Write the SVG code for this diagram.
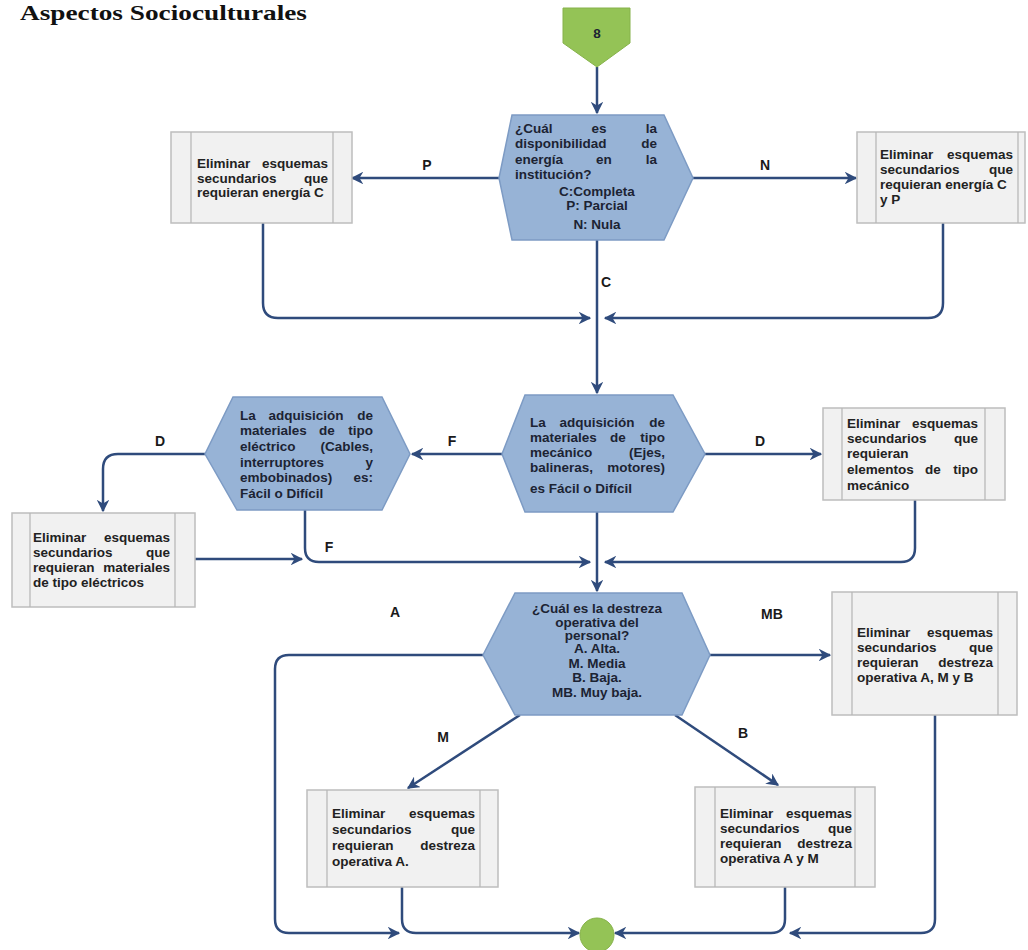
<svg xmlns="http://www.w3.org/2000/svg" width="1028" height="950" viewBox="0 0 1028 950">
<style>
.title{font-family:"Liberation Serif","Times New Roman",serif;font-weight:bold;font-size:21px;fill:#111}
.t{font-family:"Liberation Sans",Arial,sans-serif;font-weight:bold;font-size:13.5px;fill:#222}
.h{font-family:"Liberation Sans",Arial,sans-serif;font-weight:bold;font-size:13.5px;fill:#1c2333}
.lab{font-family:"Liberation Sans",Arial,sans-serif;font-weight:bold;font-size:14px;fill:#1a1a1a}
.e{text-anchor:end}
.m{text-anchor:middle}
.box{fill:#f1f1f1;stroke:#bdbdbd;stroke-width:1.5}
.bl{stroke:#b5b5b5;stroke-width:1.2}
.hex{fill:#97b3d6;stroke:#7d9bc4;stroke-width:1.5}
.green{fill:#94c356;stroke:#86b24a;stroke-width:1}
.c{fill:none;stroke:#2f4b7c;stroke-width:2.5}
</style>
<defs>
<marker id="ah" viewBox="0 0 10 10" refX="9" refY="5" markerWidth="5" markerHeight="5" orient="auto" markerUnits="strokeWidth">
<path d="M0,0 L10,5 L0,10 L3,5 Z" fill="#2f4b7c"/>
</marker>
</defs>
<text class="title" x="20" y="20" textLength="287" lengthAdjust="spacingAndGlyphs">Aspectos Socioculturales</text>

<g id="connectors">
<path class="c" d="M597,67 L597,113" marker-end="url(#ah)"/>
<path class="c" d="M500,178 L352,178" marker-end="url(#ah)"/>
<path class="c" d="M693,178 L856,178" marker-end="url(#ah)"/>
<path class="c" d="M597,240 L597,393" marker-end="url(#ah)"/>
<path class="c" d="M263,223 L263,303 Q263,318 278,318 L590,318" marker-end="url(#ah)"/>
<path class="c" d="M943,223 L943,303 Q943,318 928,318 L605,318" marker-end="url(#ah)"/>
<path class="c" d="M507,454 L412,454" marker-end="url(#ah)"/>
<path class="c" d="M705,454 L821,454" marker-end="url(#ah)"/>
<path class="c" d="M205,454 L118,454 Q103,454 103,469 L103,511" marker-end="url(#ah)"/>
<path class="c" d="M305,510 L305,548 Q305,562 319,562 L590,562" marker-end="url(#ah)"/>
<path class="c" d="M195,559 L302,559" marker-end="url(#ah)"/>
<path class="c" d="M915,500 L915,548 Q915,562 901,562 L605,562" marker-end="url(#ah)"/>
<path class="c" d="M597,512 L597,591" marker-end="url(#ah)"/>
<path class="c" d="M483,655 L289,655 Q275,655 275,669 L275,919 Q275,933 289,933 L399,933" marker-end="url(#ah)"/>
<path class="c" d="M402,887 L402,919 Q402,933 416,933 L579,933" marker-end="url(#ah)"/>
<path class="c" d="M710,655 L830,655" marker-end="url(#ah)"/>
<path class="c" d="M935,715 L935,919 Q935,933 921,933 L790,933" marker-end="url(#ah)"/>
<path class="c" d="M785,887 L785,919 Q785,933 771,933 L615,933" marker-end="url(#ah)"/>
<path class="c" d="M520,715 L408,788" marker-end="url(#ah)"/>
<path class="c" d="M675,715 L778,785" marker-end="url(#ah)"/>
</g>

<g id="labels">
<text class="lab m" x="427" y="170">P</text>
<text class="lab m" x="765" y="170">N</text>
<text class="lab m" x="606" y="287">C</text>
<text class="lab m" x="452" y="446">F</text>
<text class="lab m" x="760" y="446">D</text>
<text class="lab m" x="160" y="446">D</text>
<text class="lab m" x="329" y="552">F</text>
<text class="lab m" x="395" y="617">A</text>
<text class="lab m" x="772" y="619">MB</text>
<text class="lab m" x="443" y="742">M</text>
<text class="lab m" x="743" y="738">B</text>
</g>

<g id="start">
<polygon class="green" points="563,8 630,8 630,43 597,67 563,43"/>
<text class="h m" x="597" y="38">8</text>
</g>

<g id="q-energia">
<polygon class="hex" points="512,115 664,115 693,178 664,240 512,240 499,178"/>
<text class="h" x="515" y="133">¿Cuál</text><text class="h m" x="599" y="133">es</text><text class="h e" x="657" y="133">la</text>
<text class="h" x="515" y="148">disponibilidad</text><text class="h e" x="657" y="148">de</text>
<text class="h" x="515" y="164">energía</text><text class="h m" x="604" y="164">en</text><text class="h e" x="657" y="164">la</text>
<text class="h" x="515" y="179">institución?</text>
<text class="h m" x="597" y="196">C:Completa</text>
<text class="h m" x="597" y="210">P: Parcial</text>
<text class="h m" x="597" y="229">N: Nula</text>
</g>

<g id="box-energia-c">
<rect class="box" x="171" y="132" width="181" height="91"/>
<line class="bl" x1="191" y1="132" x2="191" y2="223"/><line class="bl" x1="333" y1="132" x2="333" y2="223"/>
<text class="t" x="197" y="168">Eliminar</text><text class="t e" x="328" y="168">esquemas</text>
<text class="t" x="197" y="183">secundarios</text><text class="t e" x="328" y="183">que</text>
<text class="t" x="197" y="197">requieran energía C</text>
</g>

<g id="box-energia-cp">
<rect class="box" x="857" y="132" width="168" height="91"/>
<line class="bl" x1="876" y1="132" x2="876" y2="223"/><line class="bl" x1="1018" y1="132" x2="1018" y2="223"/>
<text class="t" x="880" y="159">Eliminar</text><text class="t e" x="1013" y="159">esquemas</text>
<text class="t" x="880" y="174">secundarios</text><text class="t e" x="1013" y="174">que</text>
<text class="t" x="880" y="189">requieran energía C</text>
<text class="t" x="880" y="204">y P</text>
</g>

<g id="q-mecanico">
<polygon class="hex" points="525,395 673,395 705,454 673,512 525,512 502,454"/>
<text class="h" x="530" y="427">La</text><text class="h m" x="597" y="427">adquisición</text><text class="h e" x="665" y="427">de</text>
<text class="h" x="530" y="442">materiales</text><text class="h m" x="618" y="442">de</text><text class="h e" x="665" y="442">tipo</text>
<text class="h" x="530" y="457">mecánico</text><text class="h e" x="665" y="457">(Ejes,</text>
<text class="h" x="530" y="472">balineras,</text><text class="h e" x="665" y="472">motores)</text>
<text class="h" x="530" y="493">es Fácil  o Difícil</text>
</g>

<g id="q-electrico">
<polygon class="hex" points="233,397 382,397 410,454 382,510 237,510 205,454"/>
<text class="h" x="240" y="420">La</text><text class="h m" x="306" y="420">adquisición</text><text class="h e" x="373" y="420">de</text>
<text class="h" x="240" y="435">materiales</text><text class="h m" x="327" y="435">de</text><text class="h e" x="373" y="435">tipo</text>
<text class="h" x="240" y="451">eléctrico</text><text class="h e" x="373" y="451">(Cables,</text>
<text class="h" x="240" y="467">interruptores</text><text class="h e" x="373" y="467">y</text>
<text class="h" x="240" y="482">embobinados)</text><text class="h e" x="373" y="482">es:</text>
<text class="h" x="240" y="498">Fácil o Difícil</text>
</g>

<g id="box-mecanico">
<rect class="box" x="823" y="408" width="182" height="92"/>
<line class="bl" x1="842" y1="408" x2="842" y2="500"/><line class="bl" x1="985" y1="408" x2="985" y2="500"/>
<text class="t" x="847" y="428">Eliminar</text><text class="t e" x="978" y="428">esquemas</text>
<text class="t" x="847" y="443">secundarios</text><text class="t e" x="978" y="443">que</text>
<text class="t" x="847" y="458">requieran</text>
<text class="t" x="847" y="474">elementos</text><text class="t m" x="933" y="474">de</text><text class="t e" x="978" y="474">tipo</text>
<text class="t" x="847" y="490">mecánico</text>
</g>

<g id="box-electrico">
<rect class="box" x="12" y="513" width="183" height="94"/>
<line class="bl" x1="30" y1="513" x2="30" y2="607"/><line class="bl" x1="175" y1="513" x2="175" y2="607"/>
<text class="t" x="33" y="542">Eliminar</text><text class="t e" x="170" y="542">esquemas</text>
<text class="t" x="33" y="557">secundarios</text><text class="t e" x="170" y="557">que</text>
<text class="t" x="33" y="572">requieran</text><text class="t e" x="170" y="572">materiales</text>
<text class="t" x="33" y="587">de tipo eléctricos</text>
</g>

<g id="q-destreza">
<polygon class="hex" points="515,593 682,593 710,655 682,715 515,715 483,655"/>
<text class="h m" x="597" y="613">¿Cuál es la destreza</text>
<text class="h m" x="597" y="627">operativa del</text>
<text class="h m" x="597" y="640">personal?</text>
<text class="h m" x="597" y="653">A. Alta.</text>
<text class="h m" x="597" y="668">M. Media</text>
<text class="h m" x="597" y="682">B. Baja.</text>
<text class="h m" x="597" y="697">MB. Muy baja.</text>
</g>

<g id="box-destreza-amb">
<rect class="box" x="832" y="592" width="185" height="123"/>
<line class="bl" x1="852" y1="592" x2="852" y2="715"/><line class="bl" x1="998" y1="592" x2="998" y2="715"/>
<text class="t" x="857" y="637">Eliminar</text><text class="t e" x="993" y="637">esquemas</text>
<text class="t" x="857" y="652">secundarios</text><text class="t e" x="993" y="652">que</text>
<text class="t" x="857" y="667">requieran</text><text class="t e" x="993" y="667">destreza</text>
<text class="t" x="857" y="682">operativa  A,  M y B</text>
</g>

<g id="box-destreza-a">
<rect class="box" x="307" y="790" width="191" height="97"/>
<line class="bl" x1="327" y1="790" x2="327" y2="887"/><line class="bl" x1="480" y1="790" x2="480" y2="887"/>
<text class="t" x="332" y="818">Eliminar</text><text class="t e" x="475" y="818">esquemas</text>
<text class="t" x="332" y="834">secundarios</text><text class="t e" x="475" y="834">que</text>
<text class="t" x="332" y="850">requieran</text><text class="t e" x="475" y="850">destreza</text>
<text class="t" x="332" y="866">operativa  A.</text>
</g>

<g id="box-destreza-am">
<rect class="box" x="695" y="787" width="180" height="100"/>
<line class="bl" x1="715" y1="787" x2="715" y2="887"/><line class="bl" x1="855" y1="787" x2="855" y2="887"/>
<text class="t" x="720" y="818">Eliminar</text><text class="t e" x="852" y="818">esquemas</text>
<text class="t" x="720" y="833">secundarios</text><text class="t e" x="852" y="833">que</text>
<text class="t" x="720" y="848">requieran</text><text class="t e" x="852" y="848">destreza</text>
<text class="t" x="720" y="863">operativa  A y M</text>
</g>

<g id="end">
<circle class="green" cx="597" cy="935" r="17"/>
</g>
</svg>
